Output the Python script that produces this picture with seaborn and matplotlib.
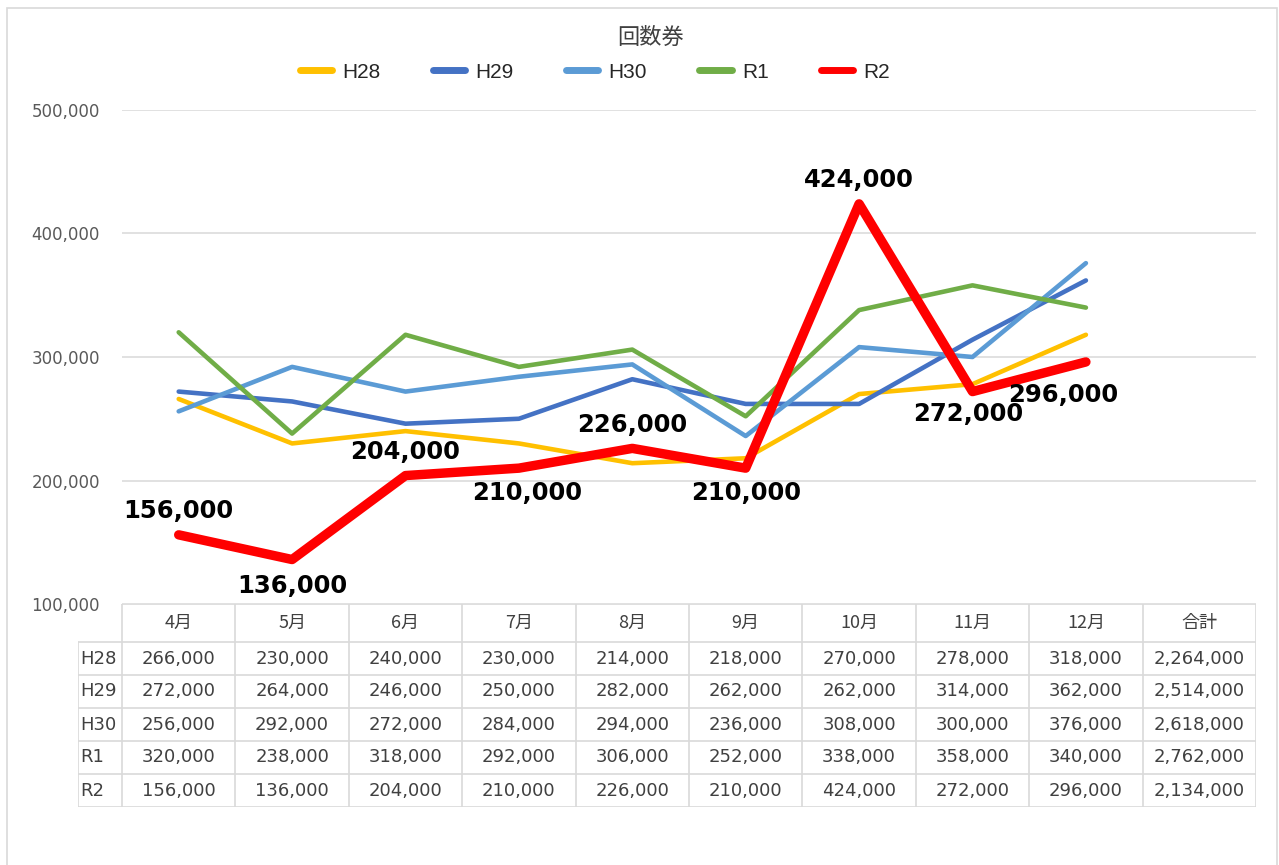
# 回数券 月別推移グラフ（データテーブル付き）

import matplotlib
matplotlib.use("Agg")
import matplotlib.pyplot as plt
from matplotlib.patches import Rectangle
import pandas as pd
import seaborn as sns

# Données
months = ["4月", "5月", "6月", "7月", "8月", "9月", "10月", "11月", "12月"]
total_label = "合計"
series_names = ["H28", "H29", "H30", "R1", "R2"]
h28 = [266000, 230000, 240000, 230000, 214000, 218000, 270000, 278000, 318000]
h29 = [272000, 264000, 246000, 250000, 282000, 262000, 262000, 314000, 362000]
h30 = [256000, 292000, 272000, 284000, 294000, 236000, 308000, 300000, 376000]
r1 = [320000, 238000, 318000, 292000, 306000, 252000, 338000, 358000, 340000]
r2 = [156000, 136000, 204000, 210000, 226000, 210000, 424000, 272000, 296000]
totals = [2264000, 2514000, 2618000, 2762000, 2134000]
# décalage des étiquettes R2 (points)
r2_label_dx = [0, 0, 0, 6, 0, 0, 0, -3, -16]
r2_label_dy = [17, -19, 17, -18, 17, -18, 17, -16, -24]

colors = {"H28": "#FFC000", "H29": "#4472C4", "H30": "#5B9BD5",
          "R1": "#70AD47", "R2": "#FF0000"}
widths = {"H28": 3.3, "H29": 3.3, "H30": 3.3, "R1": 3.3, "R2": 6.8}

values = [h28, h29, h30, r1, r2]
df = pd.DataFrame({
    "mois": [i for _ in series_names for i in range(len(months))],
    "valeur": [v for vals in values for v in vals],
    "serie": [s for s in series_names for _ in months],
})

sns.set_theme(style="white")
plt.rcParams["font.family"] = ["DejaVu Sans", "Noto Sans CJK JP"]
cjk = ["Noto Sans CJK JP", "DejaVu Sans"]

W, H = 1279, 865
fig = plt.figure(figsize=(W / 100, H / 100), dpi=100)

# Cadre autour du graphique
fig.patches.append(Rectangle((7 / W, -0.05), 1270 / W, 1 - 8 / H + 0.05,
                             transform=fig.transFigure, fill=False,
                             edgecolor="#d9d9d9", linewidth=1.2))

x0, x1 = 122, 1256
ax = fig.add_axes([x0 / W, 1 - 604 / H, (x1 - x0) / W, (604 - 110) / H])

sns.lineplot(data=df, x="mois", y="valeur", hue="serie", size="serie",
             hue_order=series_names, palette=colors, sizes=widths,
             size_order=series_names, legend=False, ax=ax)
for ln in ax.get_lines():
    ln.set_solid_joinstyle("round")
    ln.set_solid_capstyle("round")

ax.set_xlim(-0.5, len(months) + 0.5)
ax.set_ylim(100000, 500000)
ax.set_yticks([100000, 200000, 300000, 400000, 500000])
ax.set_yticklabels([f"{t:,}" for t in ax.get_yticks().astype(int)])
ax.tick_params(axis="y", length=0, pad=16, labelsize=12, labelcolor="#595959")
ax.set_xticks([])
ax.set_xlabel("")
ax.set_ylabel("")
ax.grid(axis="y", color="#d9d9d9", linewidth=1.1)
ax.set_axisbelow(True)
for sp in ax.spines.values():
    sp.set_visible(False)

# Étiquettes de données R2
for i, (v, dx, dy) in enumerate(zip(r2, r2_label_dx, r2_label_dy)):
    ax.annotate(f"{v:,}", (i, v), xytext=(dx, dy), textcoords="offset points",
                ha="center", va="center",
                fontsize=17.5, fontweight="bold", color="#000000")

# Titre et légende
fig.text(651 / W, 1 - 37 / H, "回数券", ha="center", va="center",
         fontsize=16, color="#404040", family=cjk)
leg_handles = [plt.Line2D([], [], color=colors[s], linewidth=5,
                          solid_capstyle="round") for s in series_names]
leg = fig.legend(leg_handles, series_names, loc="center",
                 bbox_to_anchor=(595 / W, 1 - 72 / H), ncol=5, frameon=False,
                 handlelength=1.55, handletextpad=0.5, columnspacing=2.5,
                 prop={"family": "Liberation Sans", "size": 15})
for t in leg.get_texts():
    t.set_color("#262626")

# Tableau de données
tx0 = 78
col_w = (x1 - x0) / (len(months) + 1)
lab_w = (x0 - tx0) / col_w
head_h, row_h = 38, 33
tab_h = head_h + row_h * len(series_names)
axt = fig.add_axes([tx0 / W, 1 - (604 + tab_h) / H, (x1 - tx0) / W, tab_h / H])
axt.set_xlim(-0.5 - lab_w, len(months) + 0.5)
axt.set_ylim(tab_h, 0)
axt.axis("off")

grid_c = "#d9d9d9"
cols = months + [total_label]
# lignes horizontales
axt.plot([-0.5, len(cols) - 0.5], [0, 0], color=grid_c, lw=1.2)
for r in range(len(series_names) + 1):
    y = head_h + r * row_h
    axt.plot([-0.5 - lab_w, len(cols) - 0.5], [y, y], color=grid_c, lw=1.2)
# lignes verticales
axt.plot([-0.5 - lab_w] * 2, [head_h, tab_h], color=grid_c, lw=1.2)
for c in range(len(cols) + 1):
    axt.plot([c - 0.5] * 2, [0, tab_h], color=grid_c, lw=1.2)

for c, name in enumerate(cols):
    axt.text(c, head_h / 2, name, ha="center", va="center",
             fontsize=13, color="#404040", family=cjk)
for r, (s, vals, tot) in enumerate(zip(series_names, values, totals)):
    yc = head_h + (r + 0.5) * row_h
    axt.text(-0.5 - lab_w + 0.02, yc, s, ha="left", va="center",
             fontsize=13, color="#404040")
    for c, v in enumerate(vals + [tot]):
        axt.text(c, yc, f"{v:,}", ha="center", va="center",
                 fontsize=13, color="#404040")

fig.savefig("out.png", dpi=100, facecolor="white")
